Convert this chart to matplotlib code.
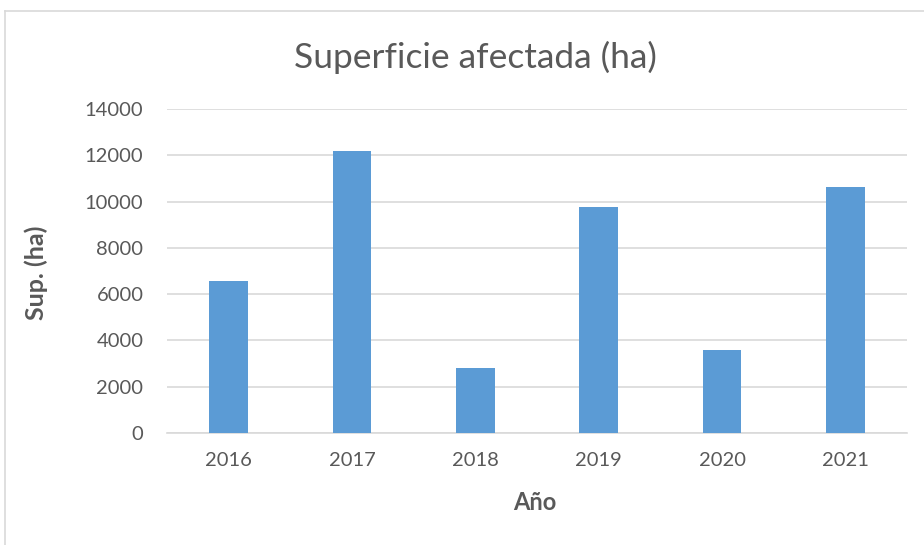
import matplotlib.pyplot as plt
from matplotlib.lines import Line2D

years = ['2016', '2017', '2018', '2019', '2020', '2021']
area_ha = [6580, 12200, 2830, 9780, 3600, 10620]
y_ticks = [0, 2000, 4000, 6000, 8000, 10000, 12000, 14000]

W, H = 924, 545
fig = plt.figure(figsize=(W / 100, H / 100), dpi=100)
plt.rcParams['font.family'] = ['Lato', 'DejaVu Sans']

# plot area in pixels: left 167, right 907, top 109, bottom 433
ax = fig.add_axes([167 / W, 1 - 433 / H, (907 - 167) / W, (433 - 109) / H])

x = range(len(years))
ax.bar(x, area_ha, width=0.316, color='#5B9BD5', zorder=3)

ax.set_xlim(-0.5, len(years) - 0.5)
ax.set_ylim(0, 14000)
ax.set_yticks(y_ticks)
ax.set_yticklabels([str(v) for v in y_ticks])
ax.set_xticks(list(x))
ax.set_xticklabels(years)
ax.grid(axis='y', color='#D9D9D9', linewidth=1.2, zorder=0)
ax.tick_params(length=0, labelsize=14.5, colors='#595959')
ax.tick_params(axis='x', pad=14)
ax.tick_params(axis='y', pad=17)
for side in ['top', 'right', 'left']:
    ax.spines[side].set_visible(False)
ax.spines['bottom'].set_color('#D9D9D9')
ax.spines['bottom'].set_linewidth(1.2)

fig.text(475 / W, 1 - 57 / H, 'Superficie afectada (ha)', ha='center', va='center',
         fontsize=25.5, color='#595959')
fig.text(535 / W, 1 - 503 / H, 'Año', ha='center', va='center',
         fontsize=17, fontweight='bold', color='#595959')
fig.text(36 / W, 1 - 273 / H, 'Sup. (ha)', ha='center', va='center', rotation=90,
         fontsize=18, fontweight='bold', color='#595959')

# chart frame (right and bottom edges fall outside the picture)
fig.add_artist(Line2D([5 / W, 5 / W], [0, 1 - 11 / H], transform=fig.transFigure,
                      color='#D9D9D9', linewidth=1.2))
fig.add_artist(Line2D([5 / W, 1], [1 - 11 / H, 1 - 11 / H], transform=fig.transFigure,
                      color='#D9D9D9', linewidth=1.2))

fig.savefig('out.png', dpi=100)
